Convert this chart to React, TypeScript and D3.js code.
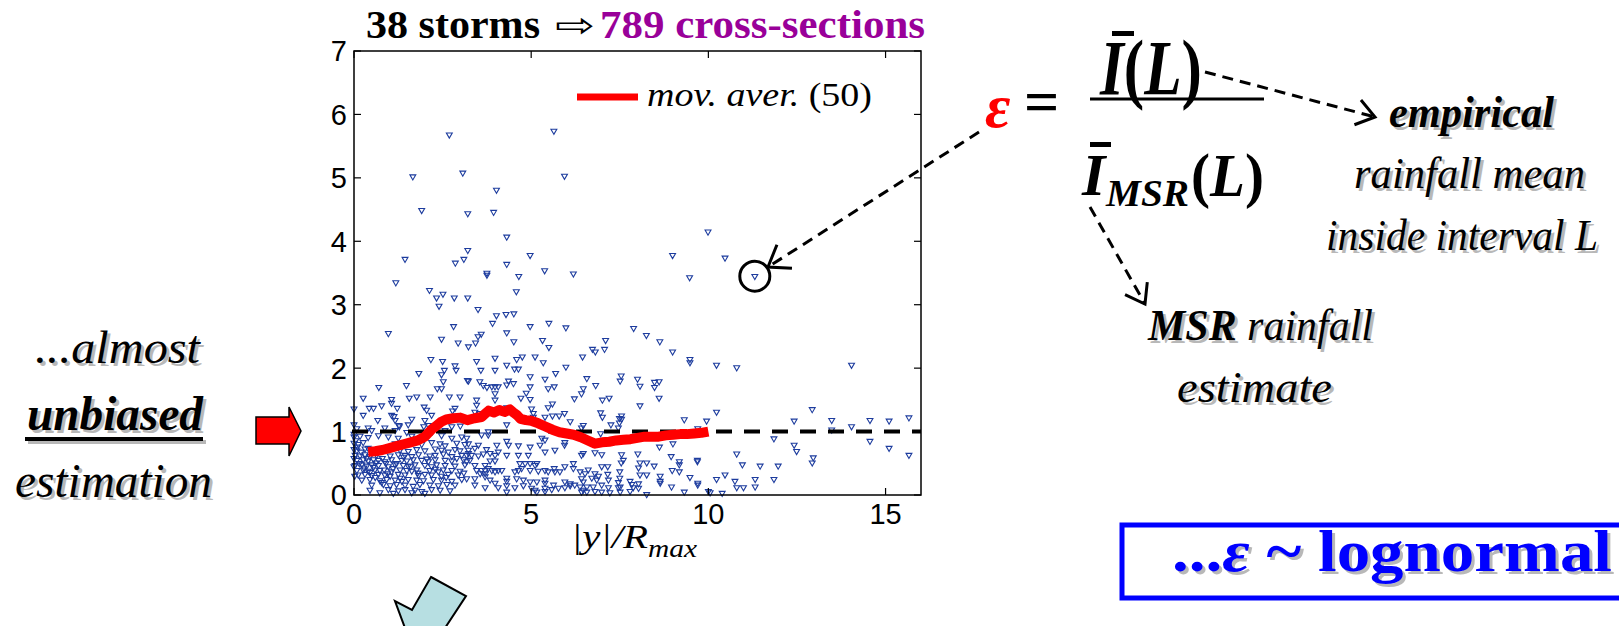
import React from 'react'
import * as d3 from 'd3'

const W = 1619
const H = 626
const SERIF = '"Liberation Serif", "Times New Roman", serif'
const SANS = '"Liberation Sans", Arial, sans-serif'

// axes
const xDomain = [0, 16]
const yDomain = [0, 7]
const xTicks = [0, 5, 10, 15]
const yTicks = [0, 1, 2, 3, 4, 5, 6, 7]
const unitLine = 1

// moving average (50) of epsilon vs |y|/Rmax
const movAvgX = [0.4, 0.6, 0.8, 1.0, 1.2, 1.4, 1.6, 1.8, 2.0, 2.1, 2.2, 2.3, 2.45, 2.6, 2.8, 3.0, 3.2, 3.4, 3.6, 3.7, 3.8, 3.95, 4.1, 4.25, 4.4, 4.5, 4.6, 4.7, 4.85, 5.0, 5.2, 5.4, 5.6, 5.8, 6.0, 6.2, 6.4, 6.6, 6.8, 7.0, 7.2, 7.4, 7.6, 7.8, 8.0, 8.2, 8.4, 8.6, 8.8, 9.0, 9.2, 9.4, 9.6, 9.8, 10.0]
const movAvgY = [0.68, 0.69, 0.71, 0.74, 0.77, 0.8, 0.83, 0.86, 0.92, 0.98, 1.04, 1.08, 1.15, 1.19, 1.21, 1.22, 1.18, 1.21, 1.23, 1.28, 1.33, 1.3, 1.34, 1.31, 1.35, 1.3, 1.26, 1.2, 1.18, 1.17, 1.13, 1.08, 1.03, 0.99, 0.97, 0.95, 0.91, 0.86, 0.81, 0.83, 0.84, 0.86, 0.87, 0.88, 0.9, 0.92, 0.92, 0.92, 0.94, 0.95, 0.96, 0.96, 0.97, 0.98, 1.0]

// scatter: [|y|/Rmax, epsilon]
const scatterUpper = [
  [2.69, 5.68], [5.64, 5.74], [1.66, 5.02], [3.07, 5.08], [5.94, 5.03], [1.91, 4.49], [4.02, 4.81], [3.21, 4.44], [3.94, 4.46], [4.31, 4.07], [9.99, 4.15],
  [1.18, 3.35], [1.44, 3.72], [3.21, 3.86], [2.86, 3.66], [3.1, 3.72], [3.75, 3.5], [3.75, 3.47], [4.31, 3.64], [4.97, 3.78], [4.65, 3.45], [5.38, 3.54], [6.19, 3.49], [4.58, 3.21],
  [8.99, 3.78], [9.47, 3.43], [10.47, 3.74], [2.13, 3.23], [2.51, 3.17], [2.33, 3.11], [2.83, 3.11], [3.21, 3.11],
  [2.4, 2.98], [3.5, 2.93], [3.91, 2.71], [4.02, 2.83], [4.29, 2.85], [4.51, 2.86], [2.81, 2.66], [0.97, 2.55], [2.47, 2.46], [2.94, 2.4], [3.23, 2.34], [3.43, 2.4], [3.5, 2.5], [3.59, 2.54],
  [4.31, 2.56], [4.51, 2.42], [4.97, 2.66], [5.5, 2.71], [5.98, 2.64], [5.32, 2.44], [5.5, 2.33], [7.89, 2.63], [8.25, 2.52], [8.63, 2.42], [7.1, 2.44], [6.73, 2.3], [6.81, 2.26], [7.07, 2.3], [8.99, 2.26],
]
const highlighted = [11.31, 3.45]

const scatterLeft = [
  [2.17, 2.14], [2.5, 2.11], [2.85, 2.04], [2.88, 1.97], [2.55, 1.97], [2.47, 1.9], [1.83, 1.92], [3.2, 1.81], [0.7, 1.7], [1.48, 1.73], [2.35, 1.68], [2.47, 1.68], [2.52, 1.79],
  [0.26, 1.53], [1.06, 1.51], [1.56, 1.53], [1.77, 1.55], [2.15, 1.55], [2.69, 1.55], [2.99, 1.55], [1.06, 1.45], [0.0, 1.36], [0.43, 1.37], [0.78, 1.41], [1.22, 1.37], [0.55, 1.37],
  [1.98, 1.39], [2.05, 1.34], [2.85, 1.37], [2.78, 1.33], [2.19, 1.26], [0.26, 1.26], [0.67, 1.18], [1.06, 1.26], [1.13, 1.24], [1.16, 1.18], [1.63, 1.2], [1.27, 1.1], [1.53, 1.11],
  [2.0, 1.18], [2.1, 1.1], [0.0, 1.11], [0.08, 1.05], [0.4, 1.06], [0.5, 1.02], [0.87, 1.06], [1.16, 1.02], [1.28, 1.08], [1.49, 0.99], [1.97, 1.08], [2.21, 1.0], [2.57, 1.02], [2.76, 1.08], [3.0, 1.09],
  [0, 0.92], [0.17, 0.93], [0.4, 0.91], [0.69, 0.94], [0.97, 0.92], [1.25, 0.9], [1.63, 0.93], [1.91, 0.91], [2.47, 0.94], [2.76, 0.9], [3.04, 0.92],
  [0, 0.82], [0.12, 0.8], [0.26, 0.83], [1.16, 0.81], [1.39, 0.79], [1.58, 0.82], [1.91, 0.8], [2.19, 0.83], [2.43, 0.81], [2.57, 0.78], [2.9, 0.82], [3.13, 0.8],
  [0, 0.72], [0.08, 0.7], [0.31, 0.73], [1.3, 0.71], [1.53, 0.69], [1.77, 0.72], [2.0, 0.7], [2.29, 0.73], [2.47, 0.71], [2.66, 0.68], [2.85, 0.72], [2.99, 0.7],
  [0.03, 0.63], [0.17, 0.62], [0.31, 0.64], [0.45, 0.61], [0.64, 0.63], [1.02, 0.62], [1.25, 0.64], [1.44, 0.63], [1.63, 0.61], [1.82, 0.64], [2.14, 0.62], [2.29, 0.63], [2.52, 0.65], [2.76, 0.61], [3.04, 0.63],
  [0.08, 0.55], [0.26, 0.56], [0.4, 0.54], [0.55, 0.56], [0.69, 0.55], [0.87, 0.53], [1.06, 0.56], [1.35, 0.55], [1.49, 0.54], [1.67, 0.56], [1.91, 0.55], [2.1, 0.53], [2.29, 0.56], [2.57, 0.55], [2.76, 0.54], [3.09, 0.56],
  [0.03, 0.47], [0.22, 0.48], [0.36, 0.46], [0.5, 0.48], [0.69, 0.47], [0.97, 0.45], [1.16, 0.48], [1.39, 0.47], [1.53, 0.46], [1.72, 0.48], [2.0, 0.47], [2.19, 0.45], [2.33, 0.48], [2.57, 0.47], [2.85, 0.46], [3.13, 0.48],
  [0.08, 0.39], [0.26, 0.4], [0.4, 0.38], [0.59, 0.4], [0.73, 0.39], [1.06, 0.37], [1.3, 0.4], [1.49, 0.39], [1.63, 0.38], [1.77, 0.4], [2.14, 0.39], [2.38, 0.37], [2.52, 0.4], [2.76, 0.39], [2.99, 0.38],
  [0.12, 0.32], [0.31, 0.33], [0.5, 0.31], [0.69, 0.33], [0.87, 0.32], [1.02, 0.3], [1.25, 0.33], [1.44, 0.32], [1.82, 0.31], [2.0, 0.33], [2.19, 0.32], [2.47, 0.3], [2.66, 0.33], [2.94, 0.32],
  [0.22, 0.24], [0.45, 0.25], [0.73, 0.23], [0.92, 0.25], [1.16, 0.24], [1.35, 0.22], [1.53, 0.25], [1.77, 0.24], [1.96, 0.23], [2.24, 0.25], [2.47, 0.24], [2.76, 0.22], [3.04, 0.25],
  [0.5, 0.16], [0.83, 0.17], [1.02, 0.15], [1.2, 0.17], [1.44, 0.16], [1.67, 0.14], [1.86, 0.17], [2.14, 0.16], [2.38, 0.15], [2.62, 0.17], [2.85, 0.16],
  [0.45, 0.08], [0.97, 0.09], [1.25, 0.07], [1.44, 0.09], [1.72, 0.08], [1.91, 0.06], [2.19, 0.09], [2.43, 0.08], [2.71, 0.07], [0.73, 0.04], [1.11, 0.03], [1.63, 0.04], [2.0, 0.03],
  [0.05, 0.86], [0.1, 0.76], [0.2, 0.68], [0.35, 0.58], [0.15, 0.5], [0.28, 0.43], [0.45, 0.36], [0.6, 0.28], [0.78, 0.2], [0.55, 0.44], [0.62, 0.51], [0.8, 0.58], [0.9, 0.5], [0.85, 0.4],
  [0.95, 0.34], [1.1, 0.42], [1.2, 0.5], [1.3, 0.27], [0.4, 0.74], [0.52, 0.67], [0.0, 0.96], [0.0, 0.58], [0.0, 0.45], [0.02, 0.3], [1.4, 0.6], [1.6, 0.45], [1.8, 0.35], [2.05, 0.57],
  [2.3, 0.41], [2.6, 0.28], [2.9, 0.58], [3.1, 0.35],
]

const scatterMiddle = [
  [3.46, 2.11], [3.98, 2.16], [4.59, 2.14], [4.75, 2.18], [5.11, 2.18], [5.34, 2.09], [6.45, 2.18], [3.58, 1.97], [3.98, 1.97], [4.31, 2.05], [4.53, 1.99], [4.64, 1.99], [5.98, 2.02],
  [3.23, 1.8], [3.55, 1.79], [3.65, 1.73], [3.75, 1.7], [3.89, 1.71], [3.98, 1.71], [4.07, 1.71], [4.31, 1.74], [4.36, 1.8], [4.5, 1.76], [4.97, 1.87], [5.39, 1.83], [5.69, 1.92],
  [3.98, 1.6], [4.71, 1.53], [4.86, 1.61], [4.97, 1.71], [5.48, 1.68], [5.65, 1.71], [6.47, 1.68], [6.42, 1.6], [6.22, 1.52], [3.46, 1.5], [3.46, 1.42], [3.98, 1.5], [4.97, 1.51],
  [5.6, 1.44], [5.48, 1.38], [4.31, 1.38], [5.01, 1.36], [3.41, 1.31], [3.55, 1.29], [3.46, 1.23], [5.06, 1.29], [5.06, 1.23], [5.39, 1.23], [5.6, 1.25], [5.79, 1.25], [5.94, 1.29],
  [6.1, 1.16], [6.47, 1.1], [6.42, 1.06], [4.31, 1.11],
  [3.79, 1.0], [3.6, 0.95], [3.79, 0.95], [5.3, 0.9], [5.39, 0.87], [5.95, 0.83], [5.94, 0.79], [3.18, 0.9], [3.23, 0.81], [3.23, 0.71], [3.23, 0.66], [3.51, 0.79], [3.41, 0.74],
  [3.74, 0.72], [4.03, 0.79], [4.31, 0.85], [4.36, 0.79], [4.64, 0.78], [4.97, 0.76], [5.25, 0.79], [6.47, 0.66], [6.42, 0.63], [5.39, 0.68], [5.67, 0.71],
  [3.18, 0.63], [3.32, 0.63], [3.51, 0.62], [3.65, 0.65], [3.84, 0.66], [3.98, 0.63], [4.07, 0.68], [4.31, 0.63], [4.64, 0.63], [4.92, 0.63], [4.97, 0.5], [5.11, 0.47], [4.68, 0.5],
  [4.83, 0.5], [5.16, 0.5], [3.18, 0.53], [3.27, 0.55], [3.41, 0.47], [3.7, 0.47], [3.84, 0.54], [3.98, 0.54],
  [3.46, 0.39], [3.6, 0.39], [3.7, 0.39], [3.79, 0.42], [3.89, 0.39], [4.07, 0.39], [4.17, 0.39], [3.98, 0.37], [3.7, 0.34], [3.56, 0.34],
  [4.54, 0.37], [4.64, 0.39], [4.73, 0.42], [4.97, 0.39], [5.2, 0.38], [5.39, 0.39], [5.48, 0.37], [5.65, 0.42], [5.67, 0.37], [5.81, 0.37], [5.95, 0.45], [6.19, 0.5], [6.19, 0.42], [6.38, 0.37],
  [3.18, 0.26], [3.41, 0.26], [3.7, 0.29], [3.84, 0.24], [3.98, 0.19], [4.31, 0.27], [4.31, 0.22], [4.59, 0.26], [4.78, 0.24], [4.97, 0.21], [5.16, 0.21], [5.39, 0.24], [5.39, 0.19],
  [5.63, 0.16], [5.95, 0.21], [6.1, 0.18], [6.23, 0.16], [6.42, 0.26], [6.47, 0.21], [6.52, 0.34],
  [3.41, 0.16], [3.7, 0.12], [4.07, 0.12], [4.31, 0.15], [4.54, 0.12], [4.78, 0.15], [5.01, 0.11], [5.11, 0.08], [5.39, 0.11], [5.58, 0.09], [5.77, 0.11], [5.95, 0.12], [6.1, 0.15],
  [6.38, 0.13], [6.47, 0.08], [4.31, 0.05], [5.16, 0.05], [5.39, 0.06], [6.42, 0.05],
]

const scatterRight = [
  [9.48, 2.14], [9.48, 2.09], [6.57, 1.84], [6.82, 1.73], [7.54, 1.88], [7.51, 1.8], [8.0, 1.83], [8.07, 1.72], [8.48, 1.78], [8.61, 1.79], [8.48, 1.7], [7.01, 1.5], [7.2, 1.53],
  [8.61, 1.53], [8.07, 1.41], [6.96, 1.3], [7.01, 1.23], [7.49, 1.21], [7.55, 1.25], [7.55, 1.2], [7.49, 1.14], [7.25, 1.11], [7.46, 1.06], [9.32, 1.19], [9.95, 1.17], [9.7, 1.05],
  [6.96, 0.97], [9.0, 0.81], [8.62, 0.76], [6.8, 0.67], [6.99, 0.64], [7.55, 0.64], [8.01, 0.65], [8.95, 0.61], [7.6, 0.55], [7.54, 0.51], [8.07, 0.51], [8.26, 0.51], [8.47, 0.46],
  [9.18, 0.53], [9.18, 0.48], [9.69, 0.55], [9.69, 0.53], [6.61, 0.4], [6.99, 0.45], [7.16, 0.45], [7.5, 0.37], [8.03, 0.43], [8.07, 0.32], [8.26, 0.32], [8.98, 0.39], [9.18, 0.37],
  [8.64, 0.3], [9.48, 0.28], [6.8, 0.34], [6.9, 0.3], [6.71, 0.27], [6.85, 0.24], [7.16, 0.33], [7.18, 0.24], [7.5, 0.27], [7.46, 0.2], [7.79, 0.22], [7.84, 0.17], [8.03, 0.18],
  [8.64, 0.22], [8.64, 0.19], [9.7, 0.19], [9.7, 0.16], [6.57, 0.13], [6.75, 0.13], [6.99, 0.16], [7.18, 0.12], [7.46, 0.12], [7.51, 0.13], [7.88, 0.12], [8.96, 0.13], [6.57, 0.05],
  [6.8, 0.06], [6.99, 0.05], [7.22, 0.04], [7.51, 0.05], [7.79, 0.06], [8.03, 0.11], [8.26, 0.01], [9.32, 0.05], [10.0, 0.06],
]

const scatterFar = [
  [10.23, 2.05], [10.8, 2.01], [14.04, 2.05], [10.23, 1.31], [12.93, 1.35], [12.42, 1.17], [13.48, 1.18], [14.56, 1.18], [15.1, 1.17], [15.66, 1.22], [14.04, 1.08], [13.48, 1.03],
  [11.85, 0.89], [14.56, 0.85], [15.1, 0.74], [15.66, 0.63], [12.42, 0.79], [12.49, 0.69], [10.8, 0.65], [12.96, 0.59], [12.93, 0.51], [10.96, 0.48], [11.46, 0.46], [11.97, 0.46],
  [10.47, 0.32], [10.23, 0.25], [10.75, 0.22], [11.32, 0.25], [11.85, 0.25], [10.8, 0.12], [10.99, 0.12], [11.32, 0.13], [10.05, 0.04], [10.39, 0.03],
]

const allPoints = [...scatterUpper, highlighted, ...scatterLeft, ...scatterMiddle, ...scatterRight, ...scatterFar]

function ShadowText({ x, y, size, len, weight = 'normal', italic = true, fill = '#000', children }: any) {
  const common = {
    y,
    fontSize: size,
    fontFamily: SERIF,
    fontWeight: weight,
    fontStyle: italic ? 'italic' : 'normal',
    textLength: len,
    lengthAdjust: 'spacingAndGlyphs',
  }
  return (
    <g>
      <text {...common} x={x + 3} y={y + 3} fill="#b8b8b8">{children}</text>
      <text {...common} x={x} fill={fill}>{children}</text>
    </g>
  )
}

function DashedArrow({ from, to, head = 20 }: any) {
  const [x1, y1] = from
  const [x2, y2] = to
  const a = Math.atan2(y2 - y1, x2 - x1)
  const s = 0.62
  const p1 = [x2 - head * Math.cos(a - s), y2 - head * Math.sin(a - s)]
  const p2 = [x2 - head * Math.cos(a + s), y2 - head * Math.sin(a + s)]
  return (
    <g stroke="#000" strokeWidth={3} fill="none">
      <line x1={x1} y1={y1} x2={x2} y2={y2} strokeDasharray="11,7" />
      <polyline points={`${p1[0]},${p1[1]} ${x2},${y2} ${p2[0]},${p2[1]}`} strokeLinejoin="miter" />
    </g>
  )
}

export default function App() {
  const x = d3.scaleLinear().domain(xDomain).range([354, 921])
  const y = d3.scaleLinear().domain(yDomain).range([495, 51])
  const [x0, x1] = x.range()
  const [y0, y1] = y.range()

  const tri = d3.symbol().type(d3.symbolTriangle).size(15)() as string
  const avgLine = d3.line<number>()
    .x((_, i) => x(movAvgX[i]))
    .y(d => y(d))(movAvgY) as string

  const hx = x(highlighted[0])
  const hy = y(highlighted[1])
  const tickLen = 7

  return (
    <div style={{ position: 'fixed', left: 0, top: 0, width: W, height: H, background: '#fff' }}>
      <svg width={W} height={H} viewBox={`0 0 ${W} ${H}`} style={{ display: 'block' }}>
        <rect width={W} height={H} fill="#fff" />

        {/* title */}
        <text x={366} y={38} fontFamily={SERIF} fontWeight="bold" fontSize={39} textLength={174} lengthAdjust="spacingAndGlyphs">38 storms</text>
        <text x={555} y={37} fontFamily='"DejaVu Sans", sans-serif' fontSize={34} textLength={40} lengthAdjust="spacingAndGlyphs">⇨</text>
        <text x={600} y={38} fontFamily={SERIF} fontWeight="bold" fontSize={39} fill="#990099" textLength={325} lengthAdjust="spacingAndGlyphs">789 cross-sections</text>

        {/* scatter */}
        <g fill="none" stroke="#1d3c9e" strokeWidth={1.1}>
          {allPoints.map((p, i) => (
            <path key={i} d={tri} transform={`translate(${x(p[0])},${y(p[1])}) rotate(180)`} />
          ))}
        </g>

        {/* unit reference line */}
        <line x1={x0 - 2} x2={x1} y1={y(unitLine)} y2={y(unitLine)} stroke="#000" strokeWidth={4} strokeDasharray="16,12" />

        {/* moving average */}
        <path d={avgLine} fill="none" stroke="#ff0000" strokeWidth={10} strokeLinejoin="round" />

        {/* axes box and ticks */}
        <rect x={x0} y={y1} width={x1 - x0} height={y0 - y1} fill="none" stroke="#000" strokeWidth={1.5} />
        <g stroke="#000" strokeWidth={1.2}>
          {xTicks.map(t => (
            <g key={t}>
              <line x1={x(t)} x2={x(t)} y1={y0} y2={y0 - tickLen} />
              <line x1={x(t)} x2={x(t)} y1={y1} y2={y1 + tickLen} />
            </g>
          ))}
          {yTicks.map(t => (
            <g key={t}>
              <line x1={x0} x2={x0 + tickLen} y1={y(t)} y2={y(t)} />
              <line x1={x1} x2={x1 - tickLen} y1={y(t)} y2={y(t)} />
            </g>
          ))}
        </g>
        <g fontFamily={SANS} fontSize={29} fill="#000">
          {xTicks.map(t => (
            <text key={t} x={x(t)} y={524} textAnchor="middle">{t}</text>
          ))}
          {yTicks.map(t => (
            <text key={t} x={347} y={y(t)} dy="0.36em" textAnchor="end">{t}</text>
          ))}
        </g>
        <text x={571} y={548} fontFamily={SERIF} fontStyle="italic" fontSize={34} textLength={77} lengthAdjust="spacingAndGlyphs">|y|/R</text>
        <text x={648} y={557} fontFamily={SERIF} fontStyle="italic" fontSize={26} textLength={49} lengthAdjust="spacingAndGlyphs">max</text>

        {/* legend */}
        <line x1={577} x2={638} y1={97} y2={97} stroke="#ff0000" strokeWidth={7} />
        <text x={647} y={106} fontFamily={SERIF} fontSize={34} textLength={225} lengthAdjust="spacingAndGlyphs">
          <tspan fontStyle="italic">mov. aver.</tspan> (50)
        </text>

        {/* highlighted point */}
        <circle cx={hx} cy={hy} r={15} fill="none" stroke="#000" strokeWidth={3} />

        {/* left annotation */}
        <ShadowText x={35} y={363} size={46} len={165}>...almost</ShadowText>
        <ShadowText x={27} y={430} size={48} len={176} weight="bold">unbiased</ShadowText>
        <rect x={28} y={440} width={178} height={4} fill="#b8b8b8" />
        <rect x={25} y={437} width={178} height={4} fill="#000" />
        <ShadowText x={15} y={497} size={48} len={197}>estimation</ShadowText>
        <polygon points="256,417 289,417 289,407 301,431 289,456 289,444 256,444" fill="#ff0000" stroke="#000" strokeWidth={1.5} />

        {/* down arrow */}
        <polygon points="431,577 466,596 445,628 462,636 415,655 395,601 412,610" fill="#b7dfe2" stroke="#000" strokeWidth={2} />

        {/* formula */}
        <text x={985} y={127} fontFamily={SERIF} fontWeight="bold" fontStyle="italic" fontSize={62} fill="#ff0000">ε</text>
        <text x={1024} y={122} fontFamily={SERIF} fontWeight="bold" fontSize={62}>=</text>
        <text x={1100} y={94} fontFamily={SERIF} fontWeight="bold" fontSize={78} textLength={102} lengthAdjust="spacingAndGlyphs">
          <tspan fontStyle="italic">I</tspan>(<tspan fontStyle="italic">L</tspan>)
        </text>
        <rect x={1112} y={31} width={22} height={5} fill="#000" />
        <line x1={1090} x2={1264} y1={99} y2={99} stroke="#000" strokeWidth={3} />
        <text x={1082} y={195} fontFamily={SERIF} fontWeight="bold" fontStyle="italic" fontSize={60}>I</text>
        <rect x={1090} y={142} width={21} height={5} fill="#000" />
        <text x={1106} y={206} fontFamily={SERIF} fontWeight="bold" fontStyle="italic" fontSize={38} textLength={83} lengthAdjust="spacingAndGlyphs">MSR</text>
        <text x={1191} y={196} fontFamily={SERIF} fontWeight="bold" fontSize={62} textLength={73} lengthAdjust="spacingAndGlyphs">
          (<tspan fontStyle="italic">L</tspan>)
        </text>

        <DashedArrow from={[1205, 72]} to={[1375, 117]} head={22} />
        <DashedArrow from={[1090, 207]} to={[1145, 304]} head={22} />
        <DashedArrow from={[979, 132]} to={[768, 267]} head={24} />

        <ShadowText x={1389} y={127} size={44} len={165} weight="bold">empirical</ShadowText>
        <ShadowText x={1354} y={188} size={44} len={231}>rainfall mean</ShadowText>
        <ShadowText x={1326} y={250} size={44} len={272}>inside interval L</ShadowText>
        <ShadowText x={1148} y={340} size={44} len={225}>
          <tspan fontWeight="bold">MSR</tspan> rainfall
        </ShadowText>
        <ShadowText x={1177} y={402} size={44} len={155}>estimate</ShadowText>

        {/* conclusion box */}
        <rect x={1122} y={525} width={520} height={73} fill="none" stroke="#0000ff" strokeWidth={5} />
        <ShadowText x={1172} y={571} size={60} len={440} weight="bold" italic={false} fill="#0000ff">
          ...<tspan fontStyle="italic">ε</tspan> ~ lognormal
        </ShadowText>
      </svg>
    </div>
  )
}
